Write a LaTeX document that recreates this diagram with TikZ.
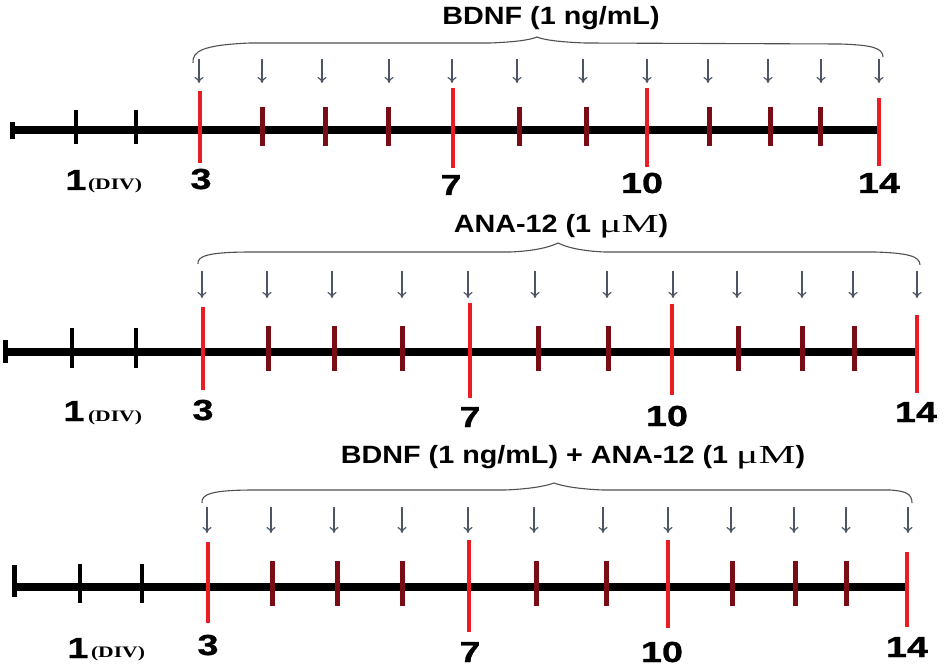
\documentclass[tikz,border=0pt]{standalone}
\usepackage{fontspec}
\setmainfont{Liberation Sans}
\newfontfamily\titlefont[FakeStretch=1.15]{Liberation Sans}
\newfontfamily\numfont[FakeStretch=1.3,FakeBold=1]{Liberation Sans}
\newfontfamily\divfont[FakeStretch=1.35]{Liberation Serif}
\newfontfamily\mufont[FakeStretch=1.6]{Liberation Serif}
\usetikzlibrary{arrows.meta}
\definecolor{tred}{RGB}{236,28,36}
\definecolor{tdark}{RGB}{122,12,22}
\definecolor{arrowc}{RGB}{75,85,100}
\definecolor{bracec}{RGB}{80,80,80}
\tikzset{
  axisline/.style={line width=8pt, black},
  endbar/.style={line width=5pt, black},
  blacktick/.style={line width=4.5pt, black},
  redtick/.style={line width=4.5pt, tred},
  darktick/.style={line width=5pt, tdark},
  dosearrow/.style={line width=1.2pt, arrowc, -{To[length=6pt,width=9pt]}},
  bracepath/.style={line width=1.1pt, bracec},
  titletext/.style={inner sep=0pt, anchor=base, font=\titlefont\bfseries\fontsize{25}{25}\selectfont},
  daylabel/.style={inner sep=0pt, anchor=base, font=\numfont\bfseries\fontsize{29}{29}\selectfont},
  divlabel/.style={inner sep=0pt, anchor=base, font=\divfont\bfseries\fontsize{16}{16}\selectfont},
}
\newcommand{\muM}{{\mufont\mdseries\fontsize{26}{26}\selectfont μM}}
\begin{document}
\begin{tikzpicture}[x=1pt,y=-1pt]
\fill[white] (0,0) rectangle (950,668);
\useasboundingbox (0,0) rectangle (950,668);

% ================= Panel 1 =================
\node[titletext] (t1) at (551,25) {BDNF (1 ng/mL)};
\draw[bracepath] (193,63) .. controls (192,51) and (203,45) .. (250,43) -- (490,43)
  .. controls (515,42) and (530,40) .. (537,37) .. controls (544,40) and (560,42) .. (585,43)
  -- (840,44) .. controls (872,45) and (883,48) .. (883,57);
\foreach \x [count=\i] in {199,262,322,389,452,517,583,647,708,768,821,879}{
  \coordinate (p1s\i) at (\x,59);
  \coordinate (p1e\i) at (\x,83);
  \draw[dosearrow] (p1s\i) -- (p1e\i);
}
\draw[axisline] (12,130) -- (879,130);
\draw[endbar] (12,122) -- (12,139);
\foreach \x in {76,136} \draw[blacktick] (\x,110) -- (\x,144);
\foreach \x in {262,325,388,519,586,709,770,820} \draw[darktick] (\x,107) -- (\x,146);
\draw[redtick] (200,91) -- (200,163);
\draw[redtick] (453,88) -- (453,168);
\draw[redtick] (647,88) -- (647,167);
\draw[redtick] (879,98) -- (879,166);
\node[daylabel] (d1a) at (76,190) {1};
\node[divlabel] (div1) at (115,190) {(DIV)};
\node[daylabel] (d1b) at (201,189) {3};
\node[daylabel] (d1c) at (451,195) {7};
\node[daylabel] (d1d) at (642,193) {10};
\node[daylabel] (d1e) at (879,193) {14};

% ================= Panel 2 =================
\node[titletext] (t2) at (561,233) {ANA-12 (1 \muM)};
\draw[bracepath] (198,264) .. controls (197,256) and (208,252) .. (252,252) -- (510,252)
  .. controls (535,251) and (550,247) .. (558,243) .. controls (566,247) and (580,251) .. (605,252)
  -- (875,252) .. controls (907,253) and (920,256) .. (920,265);
\foreach \x [count=\i] in {202,267,332,402,468,535,607,673,737,802,853,917}{
  \coordinate (p2s\i) at (\x,271);
  \coordinate (p2e\i) at (\x,298);
  \draw[dosearrow] (p2s\i) -- (p2e\i);
}
\draw[axisline] (5,352) -- (917,352);
\draw[endbar] (5,340) -- (5,363);
\foreach \x in {72,136} \draw[blacktick] (\x,328) -- (\x,368);
\foreach \x in {268,334,402,538,608,738,802,854} \draw[darktick] (\x,326) -- (\x,371);
\draw[redtick] (203,307) -- (203,390);
\draw[redtick] (470,303) -- (470,398);
\draw[redtick] (672,304) -- (672,395);
\draw[redtick] (917,315) -- (917,393);
\node[daylabel] (d2a) at (74,421) {1};
\node[divlabel] (div2) at (115,421) {(DIV)};
\node[daylabel] (d2b) at (203,420) {3};
\node[daylabel] (d2c) at (470,427) {7};
\node[daylabel] (d2d) at (667,426) {10};
\node[daylabel] (d2e) at (916,422) {14};

% ================= Panel 3 =================
\node[titletext] (t3) at (573,463) {BDNF (1 ng/mL) + ANA-12 (1 \muM)};
\draw[bracepath] (202,503) .. controls (201,494) and (212,490) .. (255,490) -- (505,490)
  .. controls (530,489) and (546,486) .. (554,483) .. controls (562,486) and (578,489) .. (603,490)
  -- (890,490) .. controls (906,491) and (912,494) .. (912,503);
\foreach \x [count=\i] in {207,271,334,402,468,534,603,668,731,794,846,908}{
  \coordinate (p3s\i) at (\x,507);
  \coordinate (p3e\i) at (\x,533);
  \draw[dosearrow] (p3s\i) -- (p3e\i);
}
\draw[axisline] (14,587) -- (907,587);
\draw[endbar] (14,565) -- (14,597);
\foreach \x in {80,142} \draw[blacktick] (\x,564) -- (\x,603);
\foreach \x in {272,337,402,536,606,732,795,846} \draw[darktick] (\x,561) -- (\x,606);
\draw[redtick] (208,542) -- (208,623);
\draw[redtick] (469,540) -- (469,632);
\draw[redtick] (668,540) -- (668,628);
\draw[redtick] (907,552) -- (907,627);
\node[daylabel] (d3a) at (78,658) {1};
\node[divlabel] (div3) at (118,657) {(DIV)};
\node[daylabel] (d3b) at (208,655) {3};
\node[daylabel] (d3c) at (470,662) {7};
\node[daylabel] (d3d) at (662,662) {10};
\node[daylabel] (d3e) at (907,657) {14};
\end{tikzpicture}
\end{document}
